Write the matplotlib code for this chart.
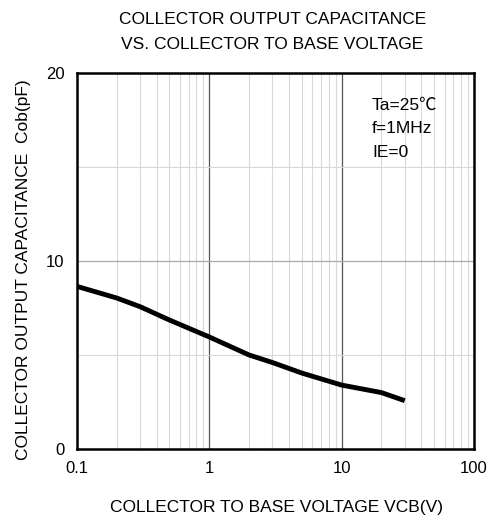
import numpy as np
import matplotlib
matplotlib.use("Agg")
import matplotlib.pyplot as plt

# Data
vcb = [0.1, 0.2, 0.3, 0.5, 1, 2, 3, 5, 10, 20, 30]
cob = [8.65, 8.03, 7.57, 6.86, 5.96, 5.0, 4.6, 4.04, 3.4, 3.0, 2.57]
x_ticks = [0.1, 1, 10, 100]
x_tick_labels = ["0.1", "1", "10", "100"]
y_ticks = [0, 10, 20]
conditions = ["Ta=25\u2103", "f=1MHz", "IE=0"]

plt.rcParams['font.family'] = ['Liberation Sans', 'Noto Sans CJK JP', 'DejaVu Sans']

fig = plt.figure(figsize=(4.93, 5.23), dpi=100)
ax = fig.add_axes([0.156, 0.1415, 0.8053, 0.719])

ax.set_xscale('log')
ax.set_xlim(0.1, 100)
ax.set_ylim(0, 20)

# grid
for dec in [0.1, 1, 10]:
    for m in range(2, 10):
        ax.axvline(dec * m, color='#d8d8d8', lw=0.8, zorder=1)
ax.axvline(1, color='#555555', lw=0.9, zorder=1)
ax.axvline(10, color='#555555', lw=0.9, zorder=1)
for yv in [5, 15]:
    ax.axhline(yv, color='#d8d8d8', lw=0.8, zorder=1)
ax.axhline(10, color='#aaaaaa', lw=0.9, zorder=1)

ax.plot(vcb, cob, color='black', lw=3.5, solid_capstyle='butt', zorder=3)

ax.set_xticks(x_ticks)
ax.set_xticklabels(x_tick_labels)
ax.set_xticks([], minor=True)
ax.set_yticks(y_ticks)
ax.tick_params(length=0, labelsize=12, pad=9)
for s in ax.spines.values():
    s.set_linewidth(1.8)

fs = 12.5
ax.text(0.743, 0.915, conditions[0], transform=ax.transAxes, fontsize=fs, va='center')
ax.text(0.743, 0.852, conditions[1], transform=ax.transAxes, fontsize=fs, va='center')
ax.text(0.743, 0.788, conditions[2], transform=ax.transAxes, fontsize=fs, va='center')

fig.text(0.552, 0.963, "COLLECTOR OUTPUT CAPACITANCE", ha='center', va='center', fontsize=fs)
fig.text(0.552, 0.914, "VS. COLLECTOR TO BASE VOLTAGE", ha='center', va='center', fontsize=fs)
fig.text(0.56, 0.03, "COLLECTOR TO BASE VOLTAGE VCB(V)", ha='center', va='center', fontsize=fs)
fig.text(0.047, 0.484, "COLLECTOR OUTPUT CAPACITANCE  Cob(pF)", ha='center', va='center',
         rotation=90, fontsize=fs)

fig.savefig("out.png", dpi=100)
